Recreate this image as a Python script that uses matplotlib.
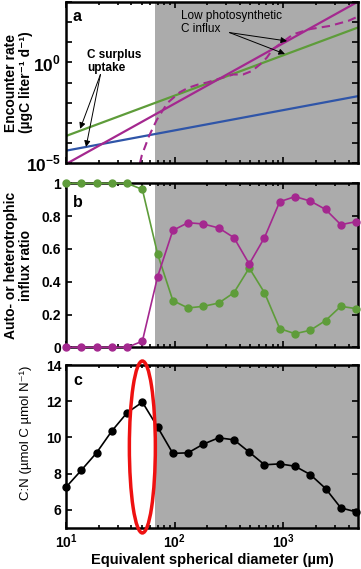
import numpy as np
import matplotlib
matplotlib.use("Agg")
import matplotlib.pyplot as plt
from matplotlib.patches import Ellipse
from matplotlib.ticker import FixedLocator, NullFormatter, LogLocator

plt.rcParams['font.family'] = ['Liberation Sans', 'DejaVu Sans']
plt.rcParams['font.weight'] = 'bold'
plt.rcParams['axes.labelweight'] = 'bold'
plt.rcParams['mathtext.fontset'] = 'custom'
plt.rcParams['mathtext.rm'] = 'Liberation Sans:bold'
plt.rcParams['mathtext.bf'] = 'Liberation Sans:bold'

# Colours
GREEN = '#5e9c3a'
PURPLE = '#a4288f'
BLUE = '#2f55a8'
SHADE = '#ababab'

# Equivalent spherical diameter (um)
diam = [10, 13.8, 19.1, 26.4, 36.5, 50.5, 69.8, 96.4, 133, 184,
        255, 352, 487, 673, 930, 1286, 1778, 2457, 3396, 4690]
x_lim = [10, 4890]
shade_start = 66

# Panel a: encounter rates (end points of the power laws)
line_x = [10, 4890]
green_rate = [2.2e-4, 54]
blue_rate = [4.1e-5, 2.1e-2]
purple_rate = [8.9e-6, 1.04e3]
dash_x = [48, 50, 53.5, 58, 63, 68.6, 86, 112, 133, 164, 199, 262, 348,
          427, 514, 612, 706, 802, 1241, 1770, 2705, 3990, 4700]
dash_y = [1e-5, 2.5e-5, 6.5e-5, 2.1e-4, 5.4e-4, 1.4e-3, 9.7e-3, 3.3e-2,
          5.4e-2, 7.9e-2, 0.10, 0.16, 0.25, 0.25, 0.37, 0.79, 1.7, 4.5,
          25, 45, 65, 116, 172]

# Panel b: influx ratios
auto_ratio = [1, 1, 1, 1, 1, 0.963, 0.569, 0.285, 0.24, 0.25, 0.27, 0.333,
              0.484, 0.333, 0.114, 0.083, 0.104, 0.163, 0.25, 0.236]
hetero_ratio = [0, 0, 0, 0, 0, 0.037, 0.431, 0.713, 0.76, 0.752, 0.728,
                0.669, 0.508, 0.669, 0.888, 0.919, 0.892, 0.841, 0.748, 0.766]

# Panel c: C:N
cn_ratio = [7.25, 8.18, 9.15, 10.35, 11.36, 11.95, 10.57, 9.12, 9.15, 9.63,
            9.98, 9.87, 9.19, 8.49, 8.54, 8.41, 7.95, 7.18, 6.11, 5.89]
peak = 5

fig = plt.figure(figsize=(3.61, 5.69), dpi=100)
ax_a = fig.add_axes([0.1828, 0.7135, 0.8089, 0.2830])
ax_b = fig.add_axes([0.1828, 0.3896, 0.8089, 0.2882])
ax_c = fig.add_axes([0.1828, 0.0721, 0.8089, 0.2864])

for ax in (ax_a, ax_b, ax_c):
    ax.set_xscale('log')
    ax.set_xlim(x_lim)
    ax.axvspan(shade_start, x_lim[1], color=SHADE, lw=0, zorder=0)
    for s in ax.spines.values():
        s.set_linewidth(1.8)
    ax.tick_params(which='both', direction='in', top=True, right=True,
                   width=1.2, labelsize=10)
    ax.tick_params(which='major', length=4)
    ax.tick_params(which='minor', length=2)
    ax.xaxis.set_minor_locator(LogLocator(base=10, subs=np.arange(2, 10)))
    ax.xaxis.set_minor_formatter(NullFormatter())

# ---- panel a
ax_a.set_yscale('log')
ax_a.set_ylim(1e-5, 1e3)
ax_a.plot(line_x, green_rate, color=GREEN, lw=1.6)
ax_a.plot(line_x, blue_rate, color=BLUE, lw=1.6)
ax_a.plot(line_x, purple_rate, color=PURPLE, lw=1.6)
ax_a.plot(dash_x, dash_y, color=PURPLE, lw=1.5, ls=(0, (4, 2.5)))
ax_a.yaxis.set_major_locator(FixedLocator([10.0**k for k in range(-5, 4)]))
ax_a.yaxis.set_minor_locator(FixedLocator([]))
ax_a.set_yticklabels(['$10^{-5}$', '', '', '', '', '$10^{0}$', '', '', ''],
                     fontsize=12.5)
ax_a.set_xticklabels([])
ax_a.set_ylabel('Encounter rate\n(µgC liter⁻¹ d⁻¹)', fontsize=10,
                linespacing=1.05)
ax_a.yaxis.set_label_coords(-0.113, 0.5)
ax_a.text(0.024, 0.955, 'a', transform=ax_a.transAxes, fontsize=11.5,
          va='top', weight='bold')

ax_a.text(0.072, 0.71, 'C surplus\nuptake', transform=ax_a.transAxes,
          fontsize=8.5, va='top', weight='bold', linespacing=1.1)
ax_a.text(0.395, 0.95, 'Low photosynthetic\nC influx', transform=ax_a.transAxes,
          fontsize=8.5, va='top', weight='normal', linespacing=1.1)
arrow = dict(arrowstyle='-|>', color='k', lw=0.7, mutation_scale=9,
             shrinkA=0, shrinkB=0)
ax_a.annotate('', xy=(13.5, 5e-4), xytext=(0.118, 0.55),
              textcoords='axes fraction', arrowprops=arrow)
ax_a.annotate('', xy=(15.3, 6.3e-5), xytext=(0.118, 0.55),
              textcoords='axes fraction', arrowprops=arrow)
ax_a.annotate('', xy=(1086, 11.5), xytext=(0.56, 0.81),
              textcoords='axes fraction', arrowprops=arrow)
ax_a.annotate('', xy=(1040, 2.6), xytext=(0.56, 0.81),
              textcoords='axes fraction', arrowprops=arrow)

# ---- panel b
ax_b.plot(diam, auto_ratio, color=GREEN, lw=1.2, marker='o', ms=5,
          clip_on=False, zorder=3)
ax_b.plot(diam, hetero_ratio, color=PURPLE, lw=1.2, marker='o', ms=5,
          clip_on=False, zorder=3)
ax_b.set_ylim(0, 1)
ax_b.set_yticks([0, 0.2, 0.4, 0.6, 0.8, 1])
ax_b.set_yticklabels(['0', '0.2', '0.4', '0.6', '0.8', '1'])
ax_b.set_xticklabels([])
ax_b.set_ylabel('Auto- or heterotrophic\ninflux ratio', fontsize=10,
                linespacing=1.05)
ax_b.yaxis.set_label_coords(-0.113, 0.5)
ax_b.text(0.024, 0.93, 'b', transform=ax_b.transAxes, fontsize=11.5,
          va='top', weight='bold')

# ---- panel c
ax_c.plot(diam, cn_ratio, color='k', lw=1.2, marker='o', ms=5,
          clip_on=False, zorder=3)
ax_c.set_ylim(5, 14)
ax_c.set_yticks([6, 8, 10, 12, 14])
ax_c.set_xticks([10, 100, 1000])
ax_c.set_xticklabels(['$10^{1}$', '$10^{2}$', '$10^{3}$'])
ax_c.set_ylabel('C:N (µmol C µmol N⁻¹)', fontsize=9.5, weight='normal')
ax_c.yaxis.set_label_coords(-0.117, 0.585)
ax_c.set_xlabel('Equivalent spherical diameter (µm)', fontsize=10.5,
                labelpad=1)
ax_c.text(0.024, 0.95, 'c', transform=ax_c.transAxes, fontsize=11.5,
          va='top', weight='bold')

for ax in (ax_a, ax_b, ax_c):
    plt.setp(ax.get_xticklabels() + ax.get_yticklabels(), weight='bold')

# red ellipse around the C:N peak
lx = np.log10(x_lim)
cx = (np.log10(diam[peak]) - lx[0]) / (lx[1] - lx[0])
ax_c.add_patch(Ellipse((cx, 0.497), 0.089, 1.055, transform=ax_c.transAxes,
                       fill=False, edgecolor='#ee1111', lw=2.5,
                       clip_on=False, zorder=4))

plt.savefig('out.png', dpi=100)
